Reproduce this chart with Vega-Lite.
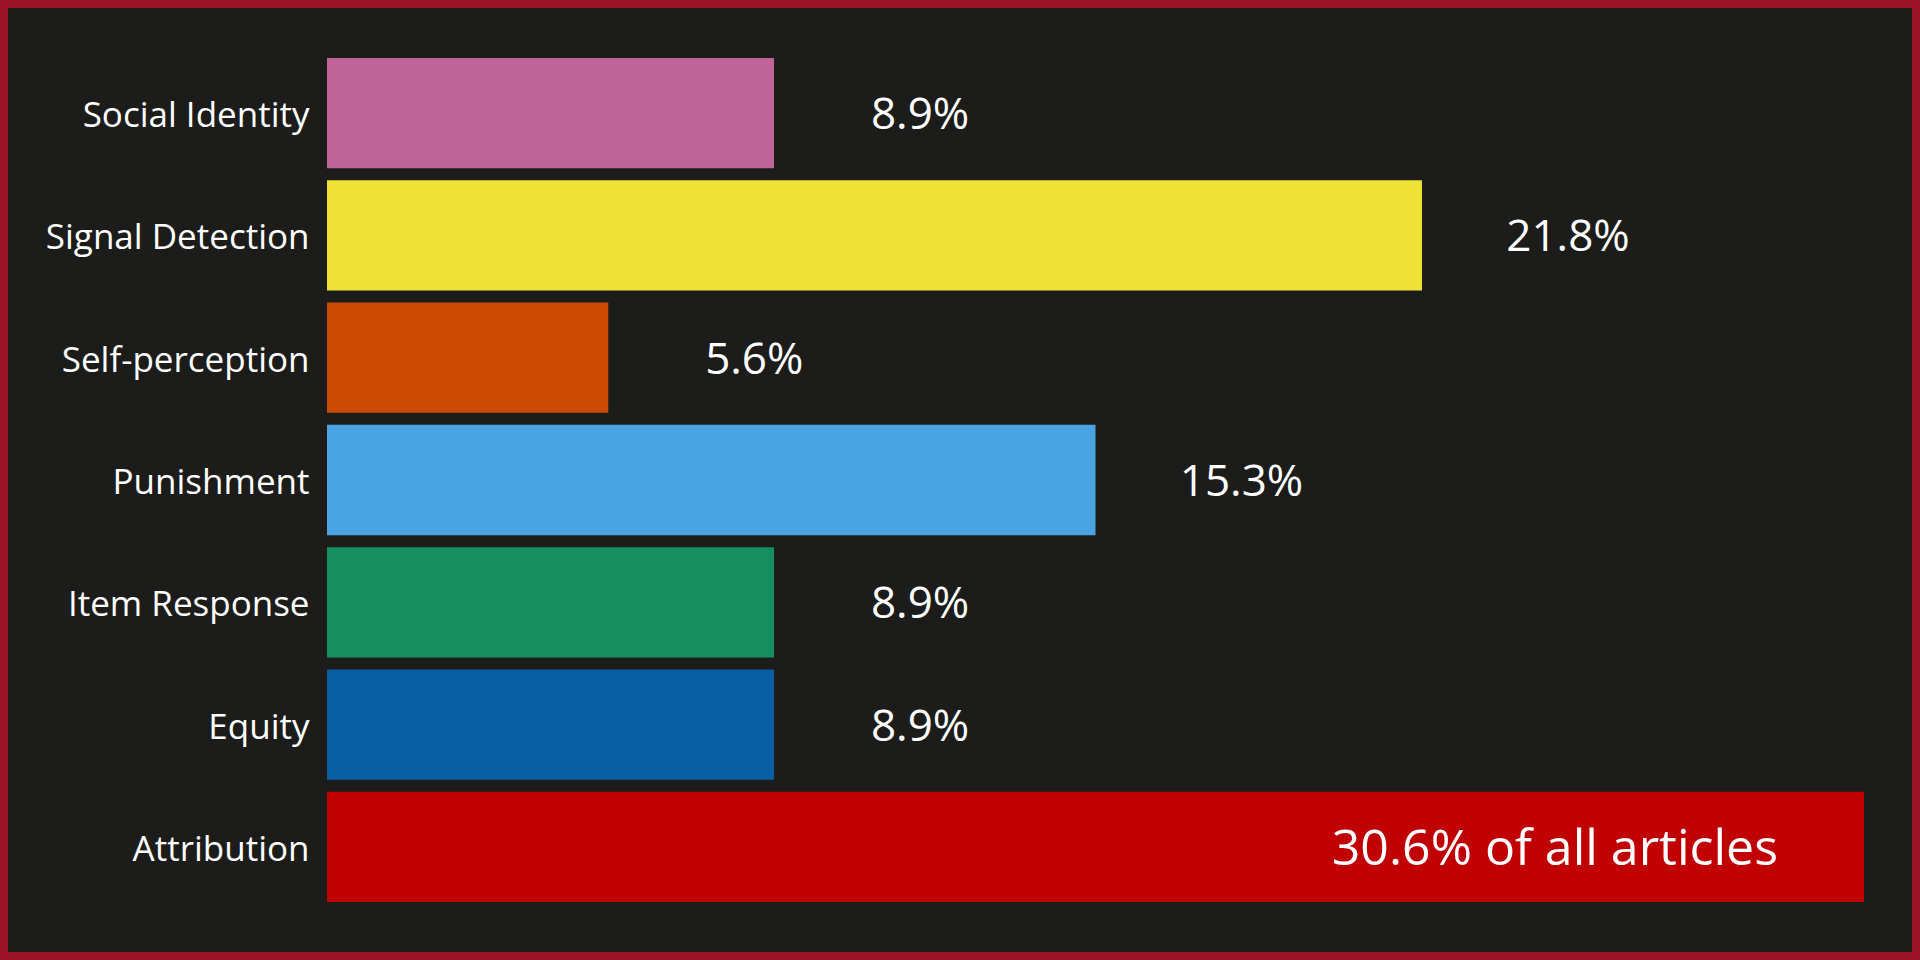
{
  "$schema": "https://vega.github.io/schema/vega-lite/v6.json",
  "autosize": {"type": "none"},
  "width": 1904,
  "height": 944,
  "padding": 8,
  "background": "#9a1428",
  "config": {
    "view": {"fill": "#1c1c1a", "stroke": null},
    "font": "Open Sans"
  },
  "data": {
    "values": [
      {"theory": "Social Identity", "pct": 8.9, "label": "8.9%"},
      {"theory": "Signal Detection", "pct": 21.8, "label": "21.8%"},
      {"theory": "Self-perception", "pct": 5.6, "label": "5.6%"},
      {"theory": "Punishment", "pct": 15.3, "label": "15.3%"},
      {"theory": "Item Response", "pct": 8.9, "label": "8.9%"},
      {"theory": "Equity", "pct": 8.9, "label": "8.9%"},
      {"theory": "Attribution", "pct": 30.6, "label": "30.6% of all articles"}
    ]
  },
  "encoding": {
    "y": {
      "field": "theory",
      "type": "nominal",
      "sort": null,
      "scale": {"paddingInner": 0.098, "paddingOuter": 0.409},
      "axis": {
        "title": null,
        "offset": -319,
        "ticks": false,
        "tickSize": 0,
        "domain": false,
        "labelPadding": 18,
        "labelFontSize": 35,
        "labelLimit": 0,
        "labelOffset": 3,
        "labelColor": "#ffffff",
        "labelFont": "Open Sans",
        "grid": false
      }
    },
    "x": {
      "field": "pct",
      "type": "quantitative",
      "scale": {"domain": [0, 30.6], "range": [319, 1856], "nice": false, "zero": true},
      "axis": null
    }
  },
  "layer": [
    {
      "mark": {"type": "bar"},
      "encoding": {
        "color": {
          "field": "theory",
          "type": "nominal",
          "scale": {
            "domain": ["Social Identity", "Signal Detection", "Self-perception", "Punishment", "Item Response", "Equity", "Attribution"],
            "range": ["#c0649a", "#eee335", "#cc4a02", "#4aa3e2", "#168f60", "#0a5ea3", "#c00003"]
          },
          "legend": null
        }
      }
    },
    {
      "transform": [{"filter": "datum.theory !== 'Attribution'"}],
      "mark": {"type": "text", "align": "center", "baseline": "middle", "dx": 146, "dy": 3, "fontSize": 44, "color": "#ffffff"},
      "encoding": {"text": {"field": "label"}}
    },
    {
      "transform": [{"filter": "datum.theory === 'Attribution'"}],
      "mark": {"type": "text", "align": "right", "baseline": "middle", "dx": -86, "dy": 3, "fontSize": 50, "color": "#ffffff"},
      "encoding": {"text": {"field": "label"}}
    }
  ]
}
